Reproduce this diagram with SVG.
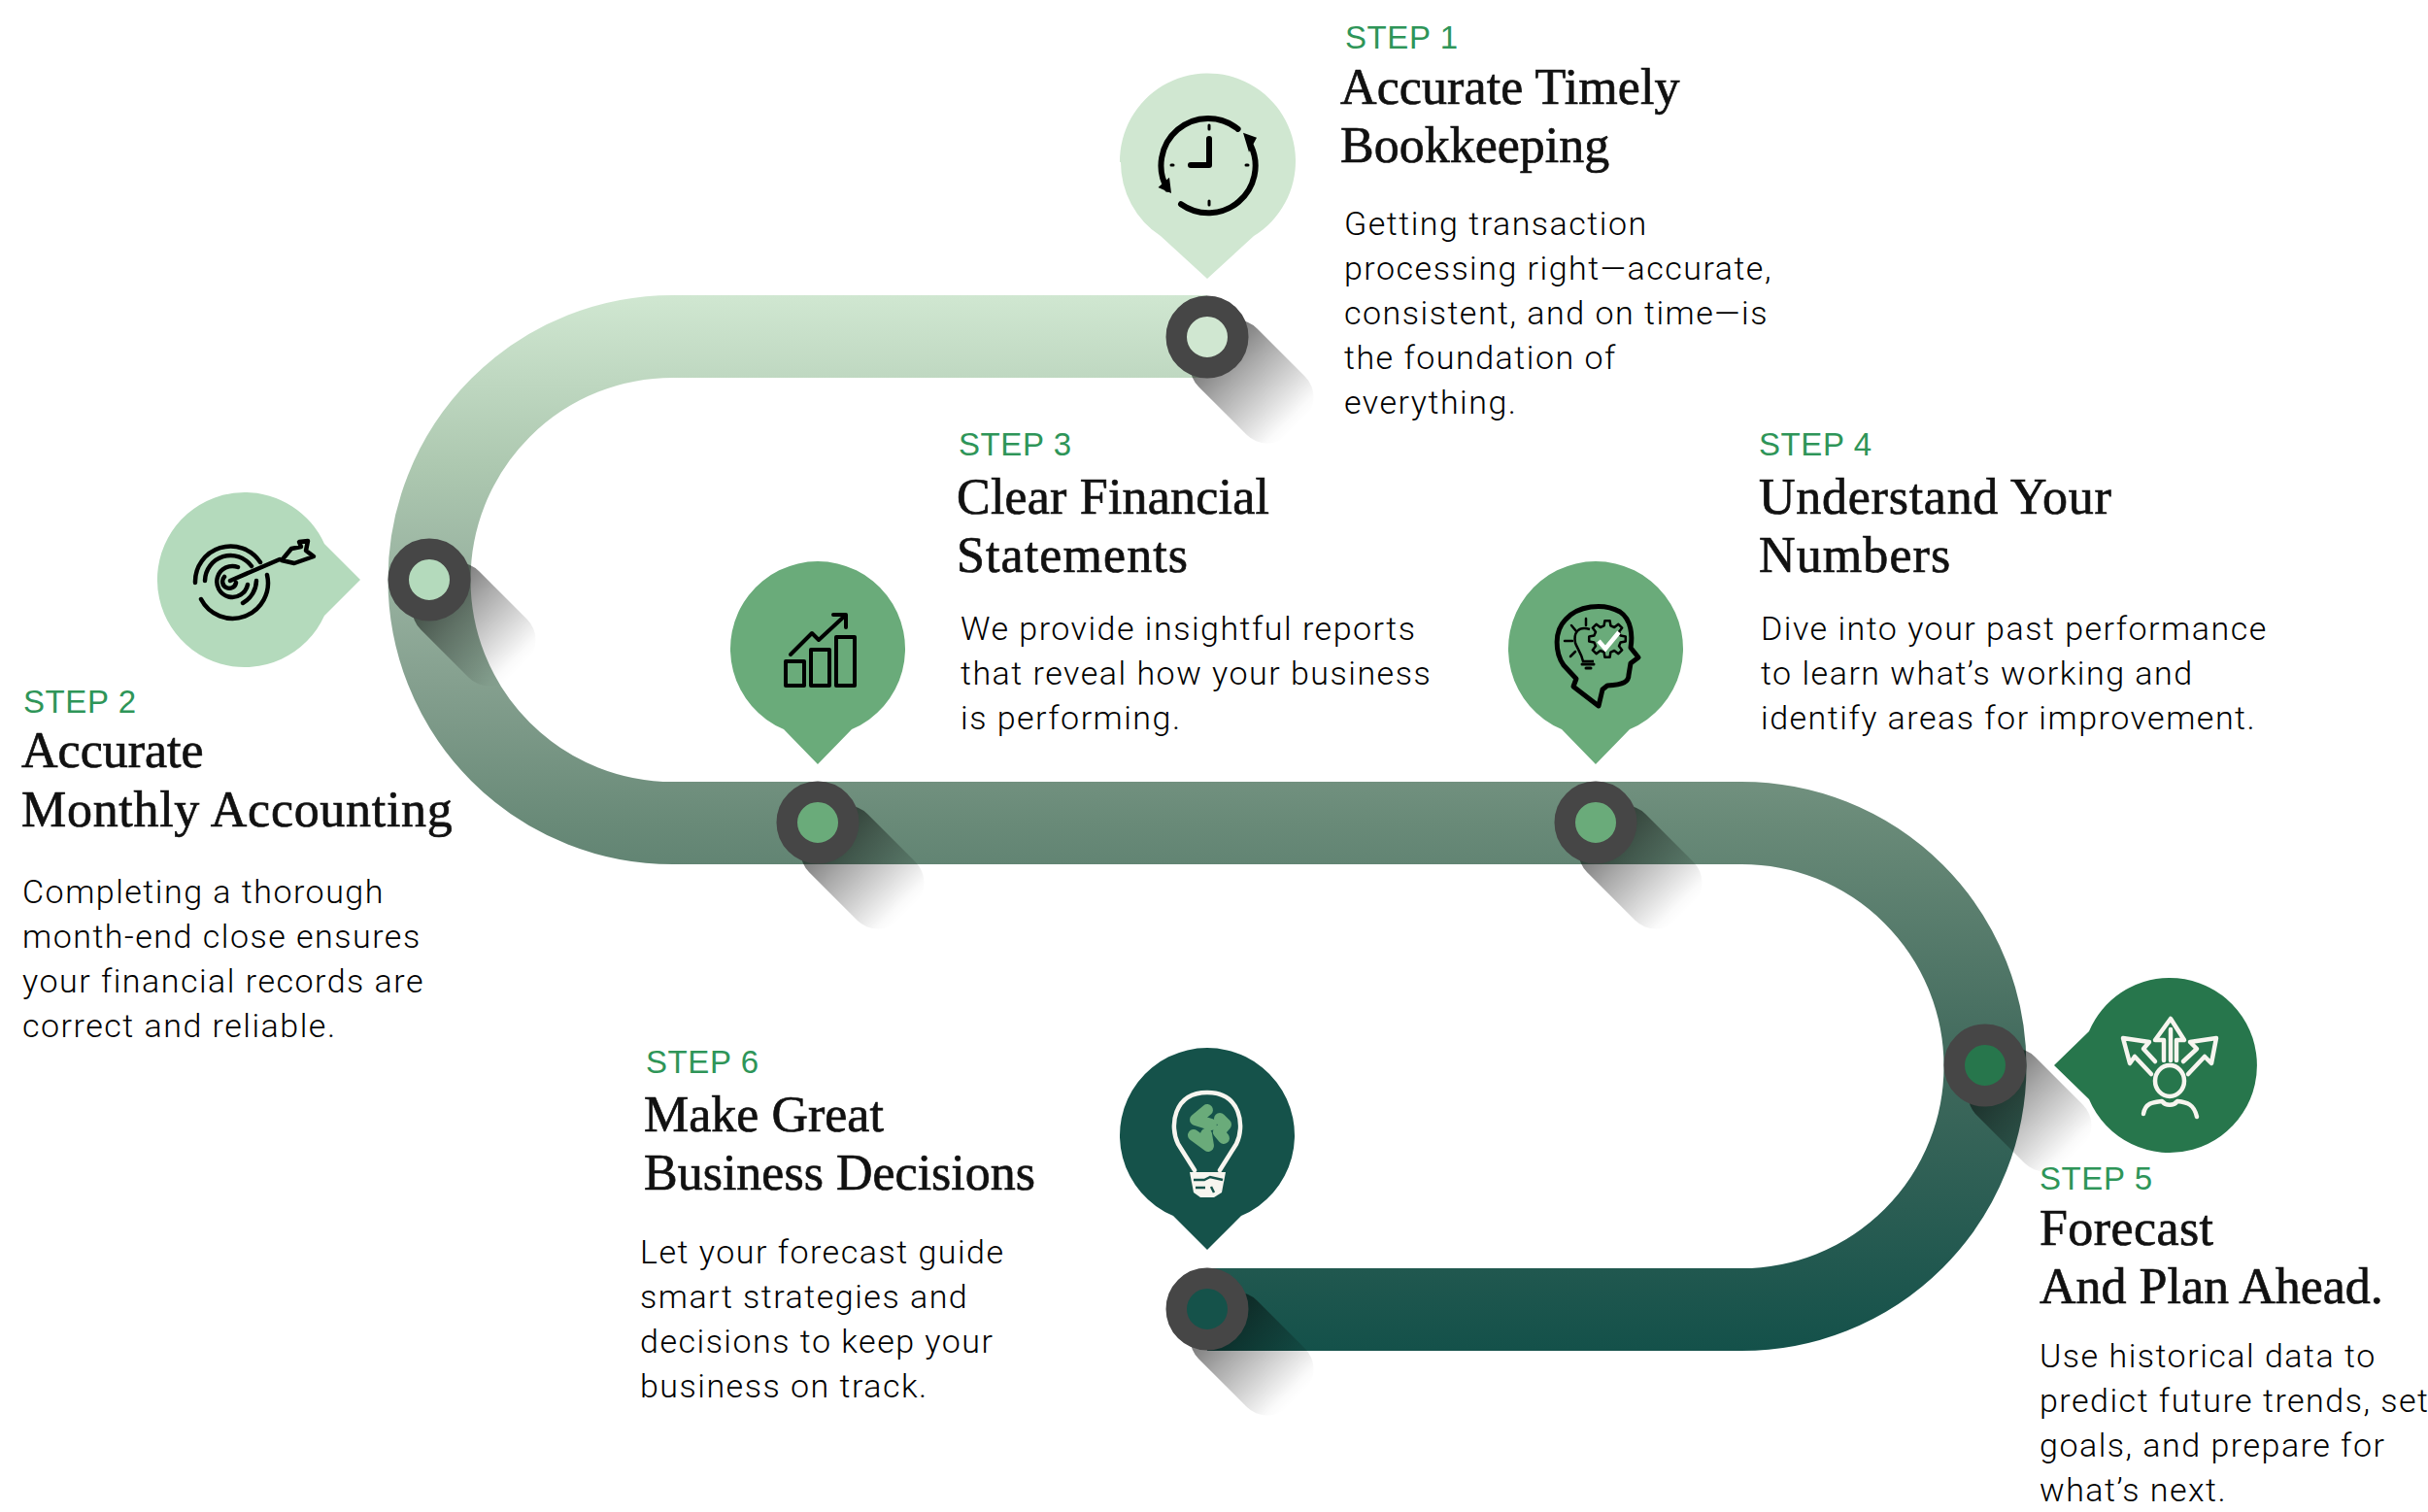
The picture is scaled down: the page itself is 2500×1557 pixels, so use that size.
<svg xmlns="http://www.w3.org/2000/svg" width="2500" height="1557" viewBox="0 0 2500 1557">
<style>
.step{font-family:"Liberation Sans",Arial,sans-serif;font-size:33px;fill:#2e9558;letter-spacing:.6px}
.title{font-family:"Liberation Serif","Times New Roman",serif;font-size:52px;fill:#111;stroke:#111;stroke-width:.7px}
.body{font-family:Roboto,"Liberation Sans",sans-serif;font-weight:300;font-size:34px;fill:#000;letter-spacing:1.5px}
.ring{stroke:#464646;stroke-width:21.500}
.ik{fill:none;stroke:#000;stroke-width:5;stroke-linecap:round;stroke-linejoin:round}
.iw{fill:none;stroke:#f7f5ef;stroke-width:4.500;stroke-linecap:round;stroke-linejoin:round}
</style>
<defs>
<linearGradient id="band" gradientUnits="userSpaceOnUse" x1="0" y1="304" x2="0" y2="1390">
<stop offset="0" stop-color="#d0e7d1"/><stop offset=".162" stop-color="#adc8b0"/><stop offset=".27" stop-color="#98b2a0"/><stop offset=".365" stop-color="#85a08f"/><stop offset=".5" stop-color="#698a78"/><stop offset=".73" stop-color="#40695c"/><stop offset="1" stop-color="#14514a"/>
</linearGradient>
<linearGradient id="sh" gradientUnits="userSpaceOnUse" x1="0" y1="0" x2="130" y2="0">
<stop offset="0" stop-color="#000" stop-opacity=".6"/><stop offset=".4" stop-color="#000" stop-opacity=".33"/><stop offset=".72" stop-color="#000" stop-opacity=".14"/><stop offset=".92" stop-color="#000" stop-opacity=".02"/><stop offset="1" stop-color="#000" stop-opacity="0"/>
</linearGradient>
<rect id="shadow" x="0" y="-42.500" width="130" height="85" rx="30" fill="url(#sh)"/>
</defs>
<g id="connectors">
<path d="M1243 346.500H692.500A250.500 250.500 0 0 0 692.500 847.500H1793.500A250.500 250.500 0 0 1 1793.500 1348.500H1243" fill="none" stroke="url(#band)" stroke-width="85"/>
</g>
<g id="step1">
<use href="#shadow" transform="translate(1243 347) rotate(45)"/>
<circle class="ring" cx="1243" cy="347" r="31.750" fill="#d0e7d1"/>
<path d="M1153 167a90.500 90.500 0 1 1 138 76L1243 287l-48-44a90.500 90.500 0 0 1-41-76z" fill="#d0e7d1"/>
<path class="ik" style="stroke-width:6" d="M1274.600 132.800A48.500 48.500 0 0 0 1202 194.700M1216 210.200A48.500 48.500 0 0 0 1288 150M1245 143V170H1226"/>
<path d="M1192.500 193L1204 182.700L1206 199zM1280 136.700L1294 141.700L1286 156.700z" fill="#000"/>
<path class="ik" style="stroke-width:3" d="M1245 129v4M1206 170h2M1283 170h2M1245 207v4"/>
<text class="step" x="1385" y="50">STEP 1</text>
<text class="title" y="107"><tspan x="1380" style="letter-spacing:.1px">Accurate Timely</tspan><tspan x="1380" y="167">Bookkeeping</tspan></text>
<text class="body" y="242"><tspan x="1384">Getting transaction</tspan><tspan x="1384" y="288">processing right—accurate,</tspan><tspan x="1384" y="334">consistent, and on time—is</tspan><tspan x="1384" y="380">the foundation of</tspan><tspan x="1384" y="426">everything.</tspan></text>
</g>
<g id="step2">
<use href="#shadow" transform="translate(442 597) rotate(45)"/>
<circle class="ring" cx="442" cy="597" r="31.750" fill="#b4dabc"/>
<path d="M252 507a90 90 0 0 1 82 53l37 37-37 37a90 90 0 1 1-82-127z" fill="#b4dabc"/>
<g class="ik" style="stroke-width:4.500"><path d="M201 600A36.500 36.500 0 0 1 268 579M207 617A36.500 36.500 0 0 0 275 592M211 598A26.500 26.500 0 0 1 259 583M250 621A27 27 0 0 0 264 598M245 584A16 16 0 1 0 255 602M231 594A7 7 0 1 0 243 600M237 598L288 576"/><path d="M290 577L300 565L310 563L308 558L317 557L315 567L323 573L303 580Z"/></g>
<text class="step" x="24" y="734">STEP 2</text>
<text class="title" y="790"><tspan x="22">Accurate</tspan><tspan x="22" y="851" style="letter-spacing:.7px">Monthly Accounting</tspan></text>
<text class="body" y="930"><tspan x="23">Completing a thorough</tspan><tspan x="23" y="976">month-end close ensures</tspan><tspan x="23" y="1022">your financial records are</tspan><tspan x="23" y="1068">correct and reliable.</tspan></text>
</g>
<g id="step3">
<use href="#shadow" transform="translate(842 847) rotate(45)"/>
<circle class="ring" cx="842" cy="847" r="31.750" fill="#6aab7a"/>
<path d="M807 751a90 90 0 1 1 70 0L842 787z" fill="#6aab7a"/>
<g class="ik" style="stroke-width:4"><rect x="809" y="681" width="19" height="25"/><rect x="835" y="669" width="19" height="37"/><rect x="861" y="656" width="19" height="50"/><path d="M814 674l22-22 7 7 27-25M858 633h13v13"/></g>
<text class="step" x="987" y="469">STEP 3</text>
<text class="title" y="529"><tspan x="985" style="letter-spacing:.2px">Clear Financial</tspan><tspan x="985" y="589" style="letter-spacing:1.1px">Statements</tspan></text>
<text class="body" y="659"><tspan x="989">We provide insightful reports</tspan><tspan x="989" y="705">that reveal how your business</tspan><tspan x="989" y="751">is performing.</tspan></text>
</g>
<g id="step4">
<use href="#shadow" transform="translate(1643 847) rotate(45)"/>
<circle class="ring" cx="1643" cy="847" r="31.750" fill="#6aab7a"/>
<path d="M1608 751a90 90 0 1 1 70 0L1643 787z" fill="#6aab7a"/>
<path class="ik" d="M1646 727L1620 707L1623 699L1610 685C1601 672 1600 650 1612 638C1624 624 1650 620 1668 630C1680 638 1681 655 1679 667L1687 677L1679 683L1677 695C1677 702 1672 705 1655 706L1650 710Z"/>
<path transform="translate(1655 658)" d="M13.600-3.400L18.800-2.600L18.800 2.600L13.600 3.400L12 7.200L15.200 11.400L11.400 15.200L7.200 12L3.400 13.600L2.600 18.800L-2.600 18.800L-3.400 13.600L-7.200 12L-11.400 15.200L-15.200 11.400L-12 7.200L-13.600 3.400L-18.800 2.600L-18.800-2.600L-13.600-3.400L-12-7.200L-15.200-11.400L-11.400-15.200L-7.200-12L-3.400-13.600L-2.600-18.800L2.600-18.800L3.400-13.600L7.200-12L11.400-15.200L15.200-11.400L12-7.200Z" fill="none" stroke="#000" stroke-width="2.500" stroke-linejoin="round"/>
<path d="M1646 660l7 8 14-17" fill="none" stroke="#fff" stroke-width="4.500"/>
<path d="M1637 648C1625 644 1620 652 1622 662C1624 668 1628 672 1630 681H1641" fill="none" stroke="#000" stroke-width="2.500"/>
<path d="M1629 684h12M1633 688h5" fill="none" stroke="#000" stroke-width="3" stroke-linecap="round"/>
<path d="M1633 637v7M1618 644l5 6M1611 660h8M1617 676l5-5" fill="none" stroke="#000" stroke-width="2.500" stroke-linecap="round"/>
<text class="step" x="1811" y="469">STEP 4</text>
<text class="title" y="529"><tspan x="1811" style="letter-spacing:.74px">Understand Your</tspan><tspan x="1811" y="589" style="letter-spacing:1.1px">Numbers</tspan></text>
<text class="body" y="659"><tspan x="1813">Dive into your past performance</tspan><tspan x="1813" y="705">to learn what’s working and</tspan><tspan x="1813" y="751">identify areas for improvement.</tspan></text>
</g>
<g id="step5">
<use href="#shadow" transform="translate(2044 1097) rotate(45)"/>
<circle class="ring" cx="2044" cy="1097" r="31.750" fill="#27764c"/>
<path d="M2233 1007a90 90 0 1 1-82 125L2115 1097l36-35a90 90 0 0 1 82-55z" fill="#27764c"/>
<g class="iw"><path d="M2228 1092V1071H2219L2235 1049L2249 1071H2241V1092M2235 1060V1092"/><path d="M2215 1106L2198 1088L2193 1095L2186 1069L2213 1073L2207 1080L2219 1093"/><path d="M2253 1106L2270 1088L2277 1095L2282 1069L2255 1073L2262 1080L2248 1093"/><ellipse cx="2234" cy="1113" rx="15" ry="16"/><path d="M2207 1147C2209 1135 2218 1135 2226 1134C2230 1139 2238 1139 2242 1134C2252 1135 2259 1137 2262 1150"/></g>
<text class="step" x="2100" y="1225">STEP 5</text>
<text class="title" y="1282"><tspan x="2100" style="letter-spacing:.4px">Forecast</tspan><tspan x="2100" y="1342">And Plan Ahead.</tspan></text>
<text class="body" y="1408"><tspan x="2100">Use historical data to</tspan><tspan x="2100" y="1454">predict future trends, set</tspan><tspan x="2100" y="1500">goals, and prepare for</tspan><tspan x="2100" y="1546">what’s next.</tspan></text>
</g>
<g id="step6">
<use href="#shadow" transform="translate(1243 1348) rotate(45)"/>
<circle class="ring" cx="1243" cy="1348" r="31.750" fill="#15524a"/>
<path d="M1208 1252a90 90 0 1 1 70 0L1243 1287z" fill="#15524a"/>
<path class="iw" d="M1230 1205L1213 1178C1204 1160 1208 1125 1243 1125C1278 1125 1282 1160 1273 1178L1256 1205"/>
<path d="M1243 1143L1231 1153L1247 1158M1256 1152L1262 1158L1255 1166L1260 1172M1229 1169L1244 1180L1242 1168" fill="none" stroke="#6aab7a" stroke-width="12" stroke-linecap="round" stroke-linejoin="round"/>
<path d="M1225 1207H1262L1258 1228L1250 1233H1236L1229 1228Z" fill="#f7f5ef"/>
<path d="M1229 1215H1240L1246 1212L1259 1215M1231 1223H1241M1247 1222L1250 1228" fill="none" stroke="#15524a" stroke-width="2.500"/>
<text class="step" x="665" y="1105">STEP 6</text>
<text class="title" y="1165"><tspan x="663">Make Great</tspan><tspan x="663" y="1225">Business Decisions</tspan></text>
<text class="body" y="1301"><tspan x="659">Let your forecast guide</tspan><tspan x="659" y="1347">smart strategies and</tspan><tspan x="659" y="1393">decisions to keep your</tspan><tspan x="659" y="1439">business on track.</tspan></text>
</g>
</svg>
